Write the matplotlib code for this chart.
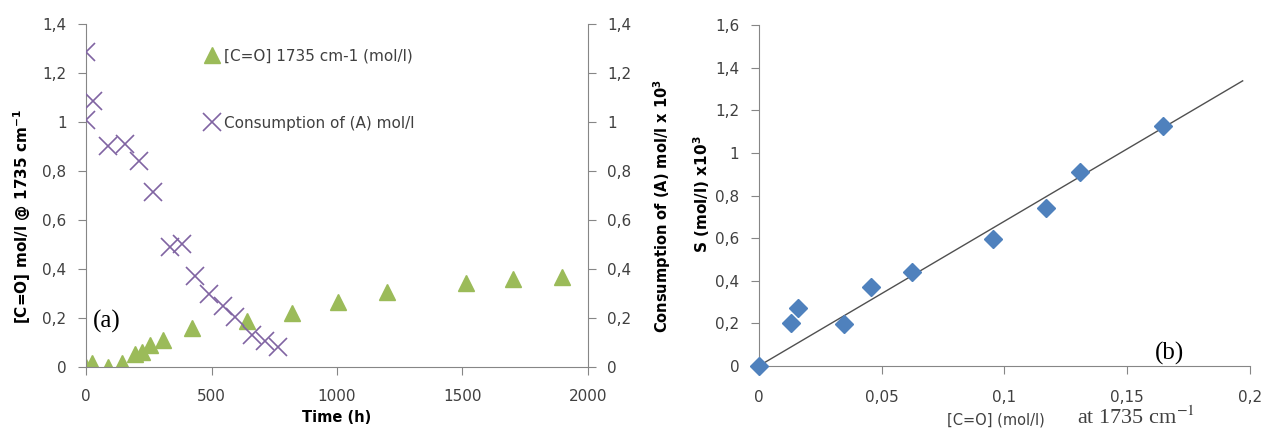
import numpy as np
import matplotlib.pyplot as plt
from matplotlib.ticker import FuncFormatter

# (a) carbonyl build-up and consumption of (A) versus time
t_co = [0, 24, 88, 143, 195, 223, 255, 307, 422, 641, 820, 1005, 1200, 1515, 1700, 1897]
co = [0.0, 0.015, 0.0, 0.015, 0.055, 0.06, 0.09, 0.11, 0.16, 0.19, 0.22, 0.265, 0.305, 0.343, 0.36, 0.367]
t_a = [0, 26, 0, 88, 155, 211, 267, 335, 382, 434, 490, 545, 594, 661, 713, 765]
cons_a = [1.286, 1.086, 1.008, 0.902, 0.91, 0.841, 0.714, 0.49, 0.502, 0.371, 0.298, 0.249, 0.204, 0.131, 0.106, 0.082]

# (b) S versus [C=O]
co_b = [0, 0.013, 0.0159, 0.0346, 0.0456, 0.0623, 0.0953, 0.1168, 0.1307, 0.1645]
s_b = [0, 0.201, 0.272, 0.197, 0.371, 0.441, 0.596, 0.741, 0.910, 1.126]
fit_end = 0.197

grey = '#868686'
txt = '#404040'
plt.rcParams['font.family'] = ['DejaVu Sans']
plt.rcParams['font.size'] = 11


def comma(v, pos):
    s = ('%.2f' % v).rstrip('0').rstrip('.')
    return s.replace('.', ',')


def style(a, sides, xpad=9.5):
    for s in a.spines:
        a.spines[s].set_visible(s in sides)
        a.spines[s].set_color(grey)
    a.tick_params(colors=grey, labelcolor=txt, length=6, labelsize=11, pad=8)
    a.tick_params(axis='x', pad=xpad)


fig = plt.figure(figsize=(12.71, 4.36), dpi=100)

ax = fig.add_axes([0.0677, 0.158, 0.3949, 0.787])
ax.plot(t_co, co, ls='none', marker='^', ms=12, color='#9BBB59', label='[C=O] 1735 cm-1 (mol/l)')
ax.set_xlim(0, 2000)
ax.set_ylim(0, 1.4)
ax.set_xticks([0, 500, 1000, 1500, 2000])
ax.set_yticks(np.arange(0, 1.41, 0.2))
ax.yaxis.set_major_formatter(FuncFormatter(comma))
style(ax, ['left', 'bottom'])
ax.set_xlabel('Time (h)', fontweight='bold', color='black', fontsize=10.5)
ax.xaxis.label.set_verticalalignment('center')
ax.xaxis.set_label_coords(0.5, -0.146)
ax.set_ylabel('[C=O] mol/l @ 1735 cm$^{\\mathbf{-1}}$', fontweight='bold', color='black', fontsize=11)
ax.yaxis.label.set_verticalalignment('center')
ax.yaxis.set_label_coords(-0.1275, 0.44)

ax2 = ax.twinx()
ax2.plot(t_a, cons_a, ls='none', marker='x', ms=13, mew=1.2, color='#8064A2', label='Consumption of (A) mol/l')
ax2.set_ylim(0, 1.4)
ax2.set_yticks(np.arange(0, 1.41, 0.2))
ax2.yaxis.set_major_formatter(FuncFormatter(comma))
style(ax2, ['right'])
ax2.set_ylabel('Consumption of (A) mol/l x 10$^{\\mathbf{3}}$', fontweight='bold', color='black', fontsize=10.5)
ax2.yaxis.label.set_verticalalignment('center')
ax2.yaxis.set_label_coords(1.147, 0.469)

h1, l1 = ax.get_legend_handles_labels()
h2, l2 = ax2.get_legend_handles_labels()
leg = ax.legend(h1 + h2, l1 + l2, loc='upper left', bbox_to_anchor=(0.22, 0.95), frameon=False,
                labelspacing=3.4, handlelength=1.0, handletextpad=0.3, borderpad=0, fontsize=11)
for t in leg.get_texts():
    t.set_color(txt)
ax.text(0.014, 0.114, '(a)', transform=ax.transAxes, family='Liberation Serif', fontsize=18, va='baseline')

# (b)
bx = fig.add_axes([0.597, 0.1606, 0.3865, 0.782])
slope = np.sum(np.array(co_b) * np.array(s_b)) / np.sum(np.array(co_b) ** 2)
bx.plot([0, fit_end], [0, slope * fit_end], color='#505050', lw=1.0, clip_on=False)
bx.plot(co_b, s_b, ls='none', marker='D', ms=9, color='#4F81BD', clip_on=False, zorder=3)
bx.set_xlim(0, 0.2)
bx.set_ylim(0, 1.6)
bx.set_xticks([0, 0.05, 0.1, 0.15, 0.2])
bx.set_yticks(np.arange(0, 1.61, 0.2))
bx.xaxis.set_major_formatter(FuncFormatter(comma))
bx.yaxis.set_major_formatter(FuncFormatter(comma))
style(bx, ['left', 'bottom'], xpad=11)
bx.set_ylabel('S (mol/l) x10$^{\\mathbf{3}}$', fontweight='bold', color='black', fontsize=11)
bx.yaxis.label.set_verticalalignment('center')
bx.yaxis.set_label_coords(-0.116, 0.504)
bx.text(0.806, 0.018, '(b)', transform=bx.transAxes, family='Liberation Serif', fontsize=18, va='baseline')
fig.text(0.745, 0.027, '[C=O] (mol/l)', fontsize=10.5, color=txt, va='baseline')
fig.text(0.847, 0.027, 'at 1735 cm$^{-1}$', family='Liberation Serif', fontsize=16, color=txt, va='baseline',
         math_fontfamily='stix')

fig.savefig('out.png', dpi=100)
